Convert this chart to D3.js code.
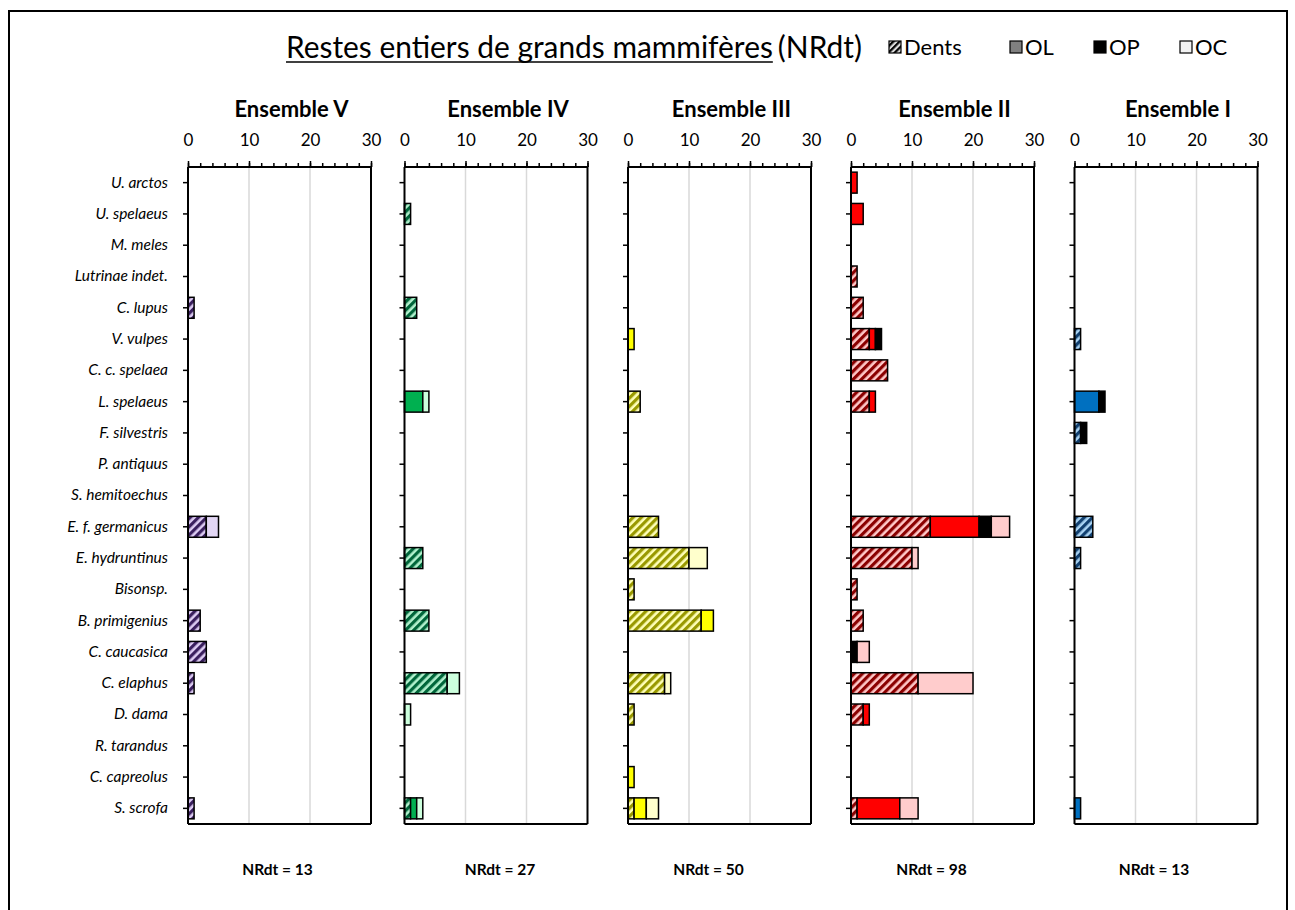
<!DOCTYPE html>
<html><head><meta charset="utf-8">
<script src="https://cdn.jsdelivr.net/npm/d3@7"></script>
<style>body{margin:0;background:#fff}svg{display:block}text{font-family:Lato,"Open Sans",sans-serif}</style>
</head><body>
<svg id="c" width="1295" height="910"></svg>
<script>
const categories = ["U. arctos","U. spelaeus","M. meles","Lutrinae indet.","C. lupus","V. vulpes","C. c. spelaea","L. spelaeus","F. silvestris","P. antiquus","S. hemitoechus","E. f. germanicus","E. hydruntinus","Bisonsp.","B. primigenius","C. caucasica","C. elaphus","D. dama","R. tarandus","C. capreolus","S. scrofa"];
const ensembles = ["Ensemble V","Ensemble IV","Ensemble III","Ensemble II","Ensemble I"];
const tickValues = [0,10,20,30];
const legendLabels = ["Dents","OL","OP","OC"];

// values per category (order as categories)
const dentsV = [0,0,0,0,1,0,0,0,0,0,0,3,0,0,2,3,1,0,0,0,1];
const olV    = [0,0,0,0,0,0,0,0,0,0,0,0,0,0,0,0,0,0,0,0,0];
const opV    = [0,0,0,0,0,0,0,0,0,0,0,0,0,0,0,0,0,0,0,0,0];
const ocV    = [0,0,0,0,0,0,0,0,0,0,0,2,0,0,0,0,0,0,0,0,0];

const dentsIV = [0,1,0,0,2,0,0,0,0,0,0,0,3,0,4,0,7,0,0,0,1];
const olIV    = [0,0,0,0,0,0,0,3,0,0,0,0,0,0,0,0,0,0,0,0,1];
const opIV    = [0,0,0,0,0,0,0,0,0,0,0,0,0,0,0,0,0,0,0,0,0];
const ocIV    = [0,0,0,0,0,0,0,1,0,0,0,0,0,0,0,0,2,1,0,0,1];

const dentsIII = [0,0,0,0,0,0,0,2,0,0,0,5,10,1,12,0,6,1,0,0,1];
const olIII    = [0,0,0,0,0,1,0,0,0,0,0,0,0,0,2,0,0,0,0,1,2];
const opIII    = [0,0,0,0,0,0,0,0,0,0,0,0,0,0,0,0,0,0,0,0,0];
const ocIII    = [0,0,0,0,0,0,0,0,0,0,0,0,3,0,0,0,1,0,0,0,2];

const dentsII = [0,0,0,1,2,3,6,3,0,0,0,13,10,1,2,0,11,2,0,0,1];
const olII    = [1,2,0,0,0,1,0,1,0,0,0,8,0,0,0,0,0,1,0,0,7];
const opII    = [0,0,0,0,0,1,0,0,0,0,0,2,0,0,0,1,0,0,0,0,0];
const ocII    = [0,0,0,0,0,0,0,0,0,0,0,3,1,0,0,2,9,0,0,0,3];

const dentsI = [0,0,0,0,0,1,0,0,1,0,0,3,1,0,0,0,0,0,0,0,0];
const olI    = [0,0,0,0,0,0,0,4,0,0,0,0,0,0,0,0,0,0,0,0,1];
const opI    = [0,0,0,0,0,0,0,1,1,0,0,0,0,0,0,0,0,0,0,0,0];
const ocI    = [0,0,0,0,0,0,0,0,0,0,0,0,0,0,0,0,0,0,0,0,0];

const series = [
  {dents:dentsV, ol:olV, op:opV, oc:ocV},
  {dents:dentsIV, ol:olIV, op:opIV, oc:ocIV},
  {dents:dentsIII, ol:olIII, op:opIII, oc:ocIII},
  {dents:dentsII, ol:olII, op:opII, oc:ocII},
  {dents:dentsI, ol:olI, op:opI, oc:ocI}
];

// styles
const hatchDark  = ["#3a1f5e","#00663a","#999900","#8b0000","#114070"];
const hatchLight = ["#dccbf2","#b0f0cc","#ffffb8","#ffc8c8","#a8d2f2"];
const olColors   = ["#7f5fa8","#00b050","#ffff00","#ff0000","#0070c0"];
const ocColors   = ["#e2d6f4","#ccffdd","#ffffcc","#ffcccc","#ddebf7"];

const panelLefts = [188, 404.5, 628, 851, 1074.5];
const titleOffsets = [12, 12, 12, 12, 12];
const nrdtOffsets = [-2, 4, -11, -11, -12];
const panelW = 183, plotTop = 167, plotBottom = 824;

const svg = d3.select("#c");
const defs = svg.append("defs");
function hatch(id, dark, light, w, frac){
  const p = defs.append("pattern").attr("id",id).attr("patternUnits","userSpaceOnUse")
    .attr("width",w).attr("height",10).attr("patternTransform","rotate(45)");
  p.append("rect").attr("width",w).attr("height",10).attr("fill",light);
  p.append("rect").attr("width",w*frac).attr("height",10).attr("fill",dark);
}
hatchDark.forEach((d,i)=>hatch("h"+i, d, hatchLight[i], 5.8, 0.55));
hatch("hleg","#000","#d9d9d9", 4.4, 0.5);

// outer frame
svg.append("rect").attr("x",9).attr("y",11).attr("width",1278).attr("height",1000)
  .attr("fill","none").attr("stroke","#000").attr("stroke-width",2);

const keys = ["dents","ol","op","oc"];
series.forEach((s,i)=>{
  const L = panelLefts[i];
  const x = d3.scaleLinear().domain([0,30]).range([L, L+panelW]);
  const y = d3.scaleBand().domain(categories).range([plotTop,plotBottom]).paddingInner(0.33).paddingOuter(0.165);
  const g = svg.append("g");
  g.selectAll("line.grid").data([10,20]).join("line")
    .attr("x1",d=>x(d)).attr("x2",d=>x(d)).attr("y1",plotTop).attr("y2",plotBottom)
    .attr("stroke","#d9d9d9").attr("stroke-width",1.5);
  const rows = categories.map((c,k)=>({cat:c, dents:s.dents[k], ol:s.ol[k], op:s.op[k], oc:s.oc[k]}));
  const stacked = d3.stack().keys(keys)(rows);
  const fills = {dents:`url(#h${i})`, ol:olColors[i], op:"#000", oc:ocColors[i]};
  stacked.forEach(layer=>{
    g.selectAll(null).data(layer.filter(d=>d[1]-d[0]>0)).join("rect")
      .attr("x",d=>x(d[0])).attr("width",d=>x(d[1])-x(d[0]))
      .attr("y",d=>y(d.data.cat)).attr("height",y.bandwidth())
      .attr("fill",fills[layer.key]).attr("stroke","#000").attr("stroke-width",1.5);
  });
  g.append("line").attr("x1",x(30)).attr("x2",x(30)).attr("y1",plotTop).attr("y2",plotBottom).attr("stroke","#000").attr("stroke-width",2);
  g.append("line").attr("x1",x(0)).attr("x2",x(30)).attr("y1",plotBottom).attr("y2",plotBottom).attr("stroke","#000").attr("stroke-width",2);
  const minor = g.append("g").attr("transform",`translate(0,${plotTop})`)
    .call(d3.axisTop(x).tickValues(d3.range(0,31,2)).tickSize(4).tickFormat(""));
  minor.select(".domain").remove();
  minor.selectAll("line").attr("stroke","#000").attr("stroke-width",1.5);
  const major = g.append("g").attr("transform",`translate(0,${plotTop})`)
    .call(d3.axisTop(x).tickValues(tickValues).tickSize(6).tickPadding(15).tickFormat(d3.format("d")));
  major.select(".domain").attr("stroke","#000").attr("stroke-width",2).attr("d",`M${x(0)},0H${x(30)}`);
  major.selectAll("line").attr("stroke","#000").attr("stroke-width",1.5);
  major.selectAll("text").attr("font-size",17).attr("fill","#000").attr("font-family","Lato");
  const left = g.append("g").attr("transform",`translate(${L},0)`)
    .call(d3.axisLeft(y).tickSize(5).tickPadding(15).tickFormat(i===0? (d=>d) : ""));
  left.select(".domain").attr("stroke","#000").attr("stroke-width",2).attr("d",`M0,${plotTop}V${plotBottom}`);
  left.selectAll("line").attr("stroke","#000").attr("stroke-width",1.5);
  left.selectAll("text").attr("font-size",15.5).attr("font-style","italic").attr("fill","#000").attr("font-family","Lato");
  svg.append("text").attr("x",L+panelW/2+titleOffsets[i]).attr("y",117).attr("text-anchor","middle")
    .attr("font-size",22).attr("font-weight","bold").text(ensembles[i]);
  const total = d3.sum(keys.map(k=>d3.sum(s[k])));
  svg.append("text").attr("x",L+panelW/2+nrdtOffsets[i]).attr("y",875).attr("text-anchor","middle")
    .attr("font-size",15.5).attr("font-weight","bold").text(`NRdt = ${total}`);
});

// title
const t1 = svg.append("text").attr("x",286).attr("y",58).attr("font-size",26).text("Restes entiers de grands mammifères");
let w = t1.node().getComputedTextLength();
const fs = 26*487/w;
t1.attr("font-size",fs);
w = t1.node().getComputedTextLength();
svg.append("line").attr("x1",286).attr("x2",286+w).attr("y1",62).attr("y2",62).attr("stroke","#000").attr("stroke-width",1.5);
svg.append("text").attr("x",286+w+5).attr("y",58).attr("font-size",fs).text("(NRdt)");

// legend
const legX = [889,1010,1094,1180];
const legFill = ["url(#hleg)","#808080","#000","#f2f2f2"];
legendLabels.forEach((lab,k)=>{
  svg.append("rect").attr("x",legX[k]).attr("y",41).attr("width",12).attr("height",12)
    .attr("fill",legFill[k]).attr("stroke","#000").attr("stroke-width",1.2);
  svg.append("text").attr("x",legX[k]+15).attr("y",55).attr("font-size",22).text(lab);
});
</script>
</body></html>
